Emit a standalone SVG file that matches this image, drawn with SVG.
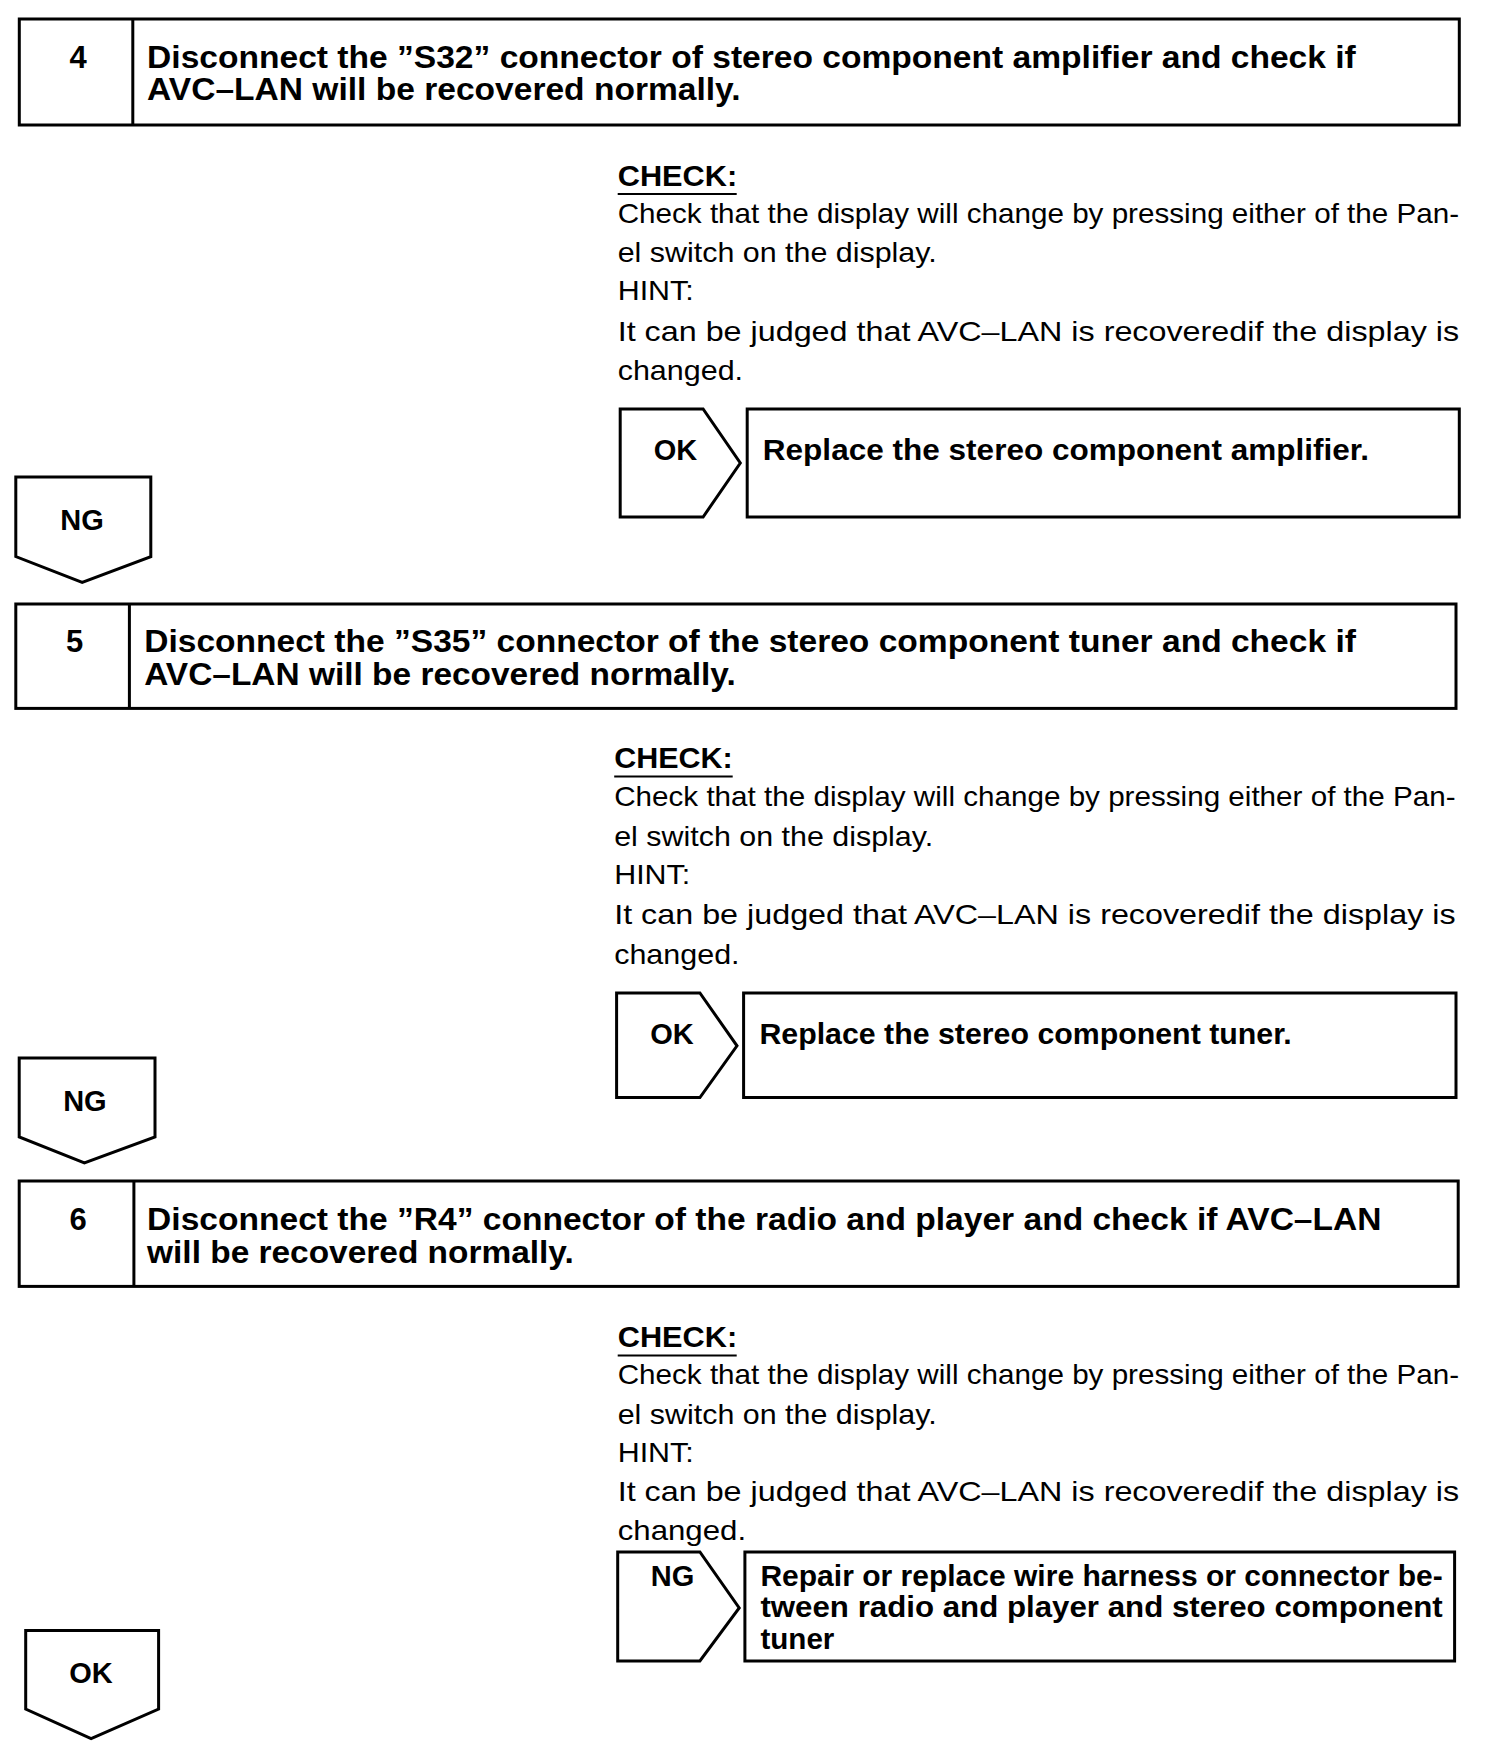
<svg xmlns="http://www.w3.org/2000/svg" width="1504" height="1764" viewBox="0 0 1504 1764">
<style>
.box{fill:#fff;stroke:#000;stroke-width:3;stroke-linejoin:miter}
.ln{stroke:#000;stroke-width:3;fill:none}
.ul{stroke:#000;stroke-width:2;fill:none}
.h{font-family:"Liberation Sans",Arial,sans-serif;font-weight:bold;font-size:31px;fill:#000}
.t{font-family:"Liberation Sans",Arial,sans-serif;font-size:28px;fill:#000}
.l{font-family:"Liberation Sans",Arial,sans-serif;font-weight:bold;font-size:29px;fill:#000}
.c{text-anchor:middle}
</style>
<rect width="1504" height="1764" fill="#fff"/>

<!-- Step 4 -->
<g id="step4">
<rect class="box" x="19.3" y="19" width="1440" height="106"/>
<line class="ln" x1="132.8" y1="19" x2="132.8" y2="125"/>
<text class="h c" x="78" y="67.5">4</text>
<text class="h" x="147.1" y="67.5" textLength="1208.7" lengthAdjust="spacingAndGlyphs">Disconnect the ”S32” connector of stereo component amplifier and check if</text>
<text class="h" x="147.1" y="100" textLength="593.5" lengthAdjust="spacingAndGlyphs">AVC–LAN will be recovered normally.</text>
</g>
<g id="check4">
<text class="l" x="617.7" y="185.5" textLength="119.5" lengthAdjust="spacingAndGlyphs">CHECK:</text>
<line class="ul" x1="617.7" y1="194" x2="736.7" y2="194"/>
<text class="t" x="617.7" y="222.7" textLength="841.4" lengthAdjust="spacingAndGlyphs">Check that the display will change by pressing either of the Pan-</text>
<text class="t" x="617.7" y="262" textLength="319" lengthAdjust="spacingAndGlyphs">el switch on the display.</text>
<text class="t" x="617.7" y="300" textLength="76" lengthAdjust="spacingAndGlyphs">HINT:</text>
<text class="t" x="617.7" y="340.7" textLength="841.4" lengthAdjust="spacingAndGlyphs">It can be judged that AVC–LAN is recoveredif the display is</text>
<text class="t" x="617.7" y="380" textLength="125.4" lengthAdjust="spacingAndGlyphs">changed.</text>
</g>
<g id="ok4">
<polygon class="box" points="620.2,409 703.1,409 740.3,463 703.1,517 620.2,517"/>
<text class="l c" x="675.5" y="460">OK</text>
</g>
<g id="result4">
<rect class="box" x="747.2" y="409" width="712.1" height="108"/>
<text class="l" x="762.8" y="460" textLength="606.3" lengthAdjust="spacingAndGlyphs">Replace the stereo component amplifier.</text>
</g>
<g id="ng4">
<polygon class="box" points="15.8,477 150.8,477 150.8,556.6 82.2,582.5 15.8,556.6"/>
<text class="l c" x="82" y="529.6">NG</text>
</g>

<!-- Step 5 -->
<g id="step5">
<rect class="box" x="15.8" y="604" width="1440.2" height="104.4"/>
<line class="ln" x1="129.4" y1="604" x2="129.4" y2="708.4"/>
<text class="h c" x="74.6" y="652">5</text>
<text class="h" x="144.2" y="652" textLength="1211.7" lengthAdjust="spacingAndGlyphs">Disconnect the ”S35” connector of the stereo component tuner and check if</text>
<text class="h" x="144.2" y="685" textLength="591.5" lengthAdjust="spacingAndGlyphs">AVC–LAN will be recovered normally.</text>
</g>
<g id="check5">
<text class="l" x="614.2" y="768" textLength="118.5" lengthAdjust="spacingAndGlyphs">CHECK:</text>
<line class="ul" x1="614.2" y1="776.5" x2="732.7" y2="776.5"/>
<text class="t" x="614.2" y="806" textLength="841.4" lengthAdjust="spacingAndGlyphs">Check that the display will change by pressing either of the Pan-</text>
<text class="t" x="614.2" y="845.6" textLength="319" lengthAdjust="spacingAndGlyphs">el switch on the display.</text>
<text class="t" x="614.2" y="884" textLength="76" lengthAdjust="spacingAndGlyphs">HINT:</text>
<text class="t" x="614.2" y="924" textLength="841.4" lengthAdjust="spacingAndGlyphs">It can be judged that AVC–LAN is recoveredif the display is</text>
<text class="t" x="614.2" y="963.7" textLength="125.4" lengthAdjust="spacingAndGlyphs">changed.</text>
</g>
<g id="ok5">
<polygon class="box" points="616.6,993 699.9,993 737,1045.8 699.9,1097.5 616.6,1097.5"/>
<text class="l c" x="672" y="1043.6">OK</text>
</g>
<g id="result5">
<rect class="box" x="743.6" y="993" width="712.4" height="104.5"/>
<text class="l" x="759.4" y="1043.6" textLength="532.3" lengthAdjust="spacingAndGlyphs">Replace the stereo component tuner.</text>
</g>
<g id="ng5">
<polygon class="box" points="19.2,1058 155,1058 155,1137 84.4,1163 19.2,1137"/>
<text class="l c" x="84.9" y="1111">NG</text>
</g>

<!-- Step 6 -->
<g id="step6">
<rect class="box" x="19.2" y="1181" width="1439" height="105.4"/>
<line class="ln" x1="133.9" y1="1181" x2="133.9" y2="1286.4"/>
<text class="h c" x="78" y="1230">6</text>
<text class="h" x="147.1" y="1230" textLength="1234.4" lengthAdjust="spacingAndGlyphs">Disconnect the ”R4” connector of the radio and player and check if AVC–LAN</text>
<text class="h" x="147.1" y="1263" textLength="426.6" lengthAdjust="spacingAndGlyphs">will be recovered normally.</text>
</g>
<g id="check6">
<text class="l" x="617.7" y="1347" textLength="119.5" lengthAdjust="spacingAndGlyphs">CHECK:</text>
<line class="ul" x1="617.7" y1="1355.5" x2="736.7" y2="1355.5"/>
<text class="t" x="617.7" y="1384" textLength="841.4" lengthAdjust="spacingAndGlyphs">Check that the display will change by pressing either of the Pan-</text>
<text class="t" x="617.7" y="1423.6" textLength="319" lengthAdjust="spacingAndGlyphs">el switch on the display.</text>
<text class="t" x="617.7" y="1462" textLength="76" lengthAdjust="spacingAndGlyphs">HINT:</text>
<text class="t" x="617.7" y="1501" textLength="841.4" lengthAdjust="spacingAndGlyphs">It can be judged that AVC–LAN is recoveredif the display is</text>
<text class="t" x="617.7" y="1539.5" textLength="128.4" lengthAdjust="spacingAndGlyphs">changed.</text>
</g>
<g id="ng6">
<polygon class="box" points="617.7,1552 699.9,1552 739.2,1608 699.9,1661 617.7,1661"/>
<text class="l c" x="672.5" y="1585.5">NG</text>
</g>
<g id="result6">
<rect class="box" x="744.9" y="1552" width="709.7" height="109"/>
<text class="l" x="760.4" y="1585.5" textLength="682.4" lengthAdjust="spacingAndGlyphs">Repair or replace wire harness or connector be-</text>
<text class="l" x="760.4" y="1617" textLength="682.4" lengthAdjust="spacingAndGlyphs">tween radio and player and stereo component</text>
<text class="l" x="760.4" y="1648.5" textLength="74" lengthAdjust="spacingAndGlyphs">tuner</text>
</g>
<g id="ok6">
<polygon class="box" points="25.7,1630.5 158.6,1630.5 158.6,1709 91.1,1738.5 25.7,1709"/>
<text class="l c" x="90.9" y="1683">OK</text>
</g>

<g id="connectors"></g>
</svg>
